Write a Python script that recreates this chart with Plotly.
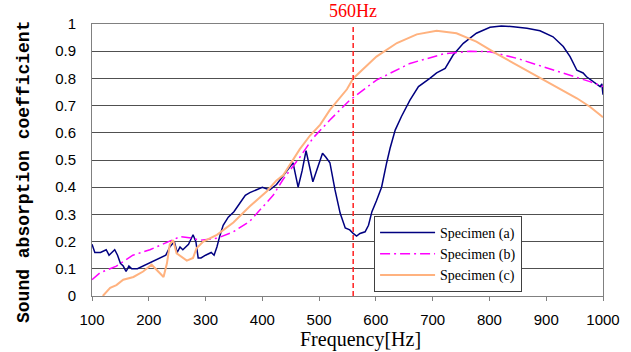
import plotly.graph_objects as go

# Specimen (a)
freq_a = [100, 105, 115, 125, 130, 140, 145, 150, 155, 160, 165, 170, 180, 190, 200, 210, 220, 230, 237,
          245, 250, 255, 260, 270, 278, 283, 287, 292, 300, 310, 315, 320, 325, 331, 340, 350, 360, 370,
          378, 390, 400, 413, 425, 436, 446, 454, 463, 470, 477, 483, 489, 497, 506, 512, 519, 528, 537,
          546, 554, 560, 566, 572, 581, 587, 593, 601, 610, 619, 625, 634, 645, 660, 675, 695, 707, 722,
          736, 754, 777, 801, 821, 842, 866, 889, 912, 930, 942, 954, 965, 971, 983, 990, 995, 998, 1000]
abs_a = [0.19, 0.16, 0.16, 0.17, 0.15, 0.17, 0.15, 0.12, 0.11, 0.09, 0.11, 0.10, 0.10, 0.11, 0.12, 0.13,
         0.14, 0.15, 0.18, 0.20, 0.16, 0.18, 0.17, 0.19, 0.225, 0.20, 0.14, 0.14, 0.15, 0.16, 0.15, 0.18,
         0.22, 0.26, 0.29, 0.31, 0.34, 0.37, 0.38, 0.39, 0.40, 0.39, 0.41, 0.44, 0.47, 0.49, 0.40, 0.46,
         0.534, 0.48, 0.42, 0.47, 0.525, 0.51, 0.49, 0.39, 0.305, 0.25, 0.243, 0.23, 0.22, 0.23, 0.236,
         0.26, 0.31, 0.35, 0.40, 0.49, 0.543, 0.61, 0.66, 0.72, 0.77, 0.80, 0.82, 0.837, 0.886, 0.929,
         0.966, 0.988, 0.993, 0.99, 0.984, 0.975, 0.953, 0.917, 0.88, 0.83, 0.82, 0.806, 0.788, 0.78,
         0.77, 0.78, 0.74]

# Specimen (b)
freq_b = [100, 114, 143, 172, 202, 231, 255, 276, 290, 320, 349, 378, 402, 419, 437, 466, 489, 519,
          554, 601, 660, 719, 766, 801, 848, 895, 942, 977, 1000]
abs_b = [0.06, 0.085, 0.11, 0.15, 0.17, 0.195, 0.218, 0.213, 0.205, 0.212, 0.236, 0.275, 0.33, 0.37,
         0.43, 0.51, 0.58, 0.647, 0.72, 0.794, 0.855, 0.89, 0.90, 0.898, 0.874, 0.843, 0.81, 0.788, 0.77]

# Specimen (c)
freq_c = [119, 132, 143, 155, 173, 190, 205, 214, 226, 232, 237, 243, 249, 267, 278, 284, 296, 320,
          349, 378, 408, 425, 437, 466, 484, 502, 519, 549, 560, 601, 637, 672, 707, 742, 777, 813, 848,
          883, 918, 954, 977, 1000]
abs_c = [0.0, 0.03, 0.04, 0.06, 0.07, 0.09, 0.115, 0.095, 0.07, 0.12, 0.19, 0.205, 0.157, 0.13, 0.14,
         0.175, 0.20, 0.225, 0.27, 0.33, 0.385, 0.425, 0.445, 0.54, 0.59, 0.63, 0.684, 0.76, 0.80, 0.88,
         0.93, 0.962, 0.975, 0.966, 0.935, 0.89, 0.85, 0.81, 0.77, 0.727, 0.696, 0.657]

x_ticks = [100, 200, 300, 400, 500, 600, 700, 800, 900, 1000]
y_ticks = [0, 0.1, 0.2, 0.3, 0.4, 0.5, 0.6, 0.7, 0.8, 0.9, 1]
y_tick_text = ["0", "0.1", "0.2", "0.3", "0.4", "0.5", "0.6", "0.7", "0.8", "0.9", "1"]
marker_freq = 560

SERIF = "Liberation Serif, Times New Roman, serif"

fig = go.Figure()
fig.add_trace(go.Scatter(x=freq_a, y=abs_a, mode="lines", name="Specimen (a)",
                         line=dict(color="#000080", width=1.5)))
fig.add_trace(go.Scatter(x=freq_b, y=abs_b, mode="lines", name="Specimen (b)",
                         line=dict(color="#FF00FF", width=1.5, dash="10px,4px,2px,4px")))
fig.add_trace(go.Scatter(x=freq_c, y=abs_c, mode="lines", name="Specimen (c)",
                         line=dict(color="#FFB27F", width=2)))

fig.add_shape(type="line", x0=marker_freq, x1=marker_freq, y0=0, y1=1, xref="x", yref="y",
              line=dict(color="#FF2020", width=1.5, dash="5px,3px"))
fig.add_annotation(x=marker_freq, y=1, xref="x", yref="y", text=f"{marker_freq}Hz", showarrow=False,
                   yanchor="bottom", yshift=1,
                   font=dict(family=SERIF, size=18, color="#FF0000"))
fig.add_annotation(x=0, y=0.5, xref="paper", yref="paper", text="Sound absorption coefficient",
                   textangle=-90, showarrow=False, xanchor="center", yanchor="middle",
                   xshift=-68, yshift=-12,
                   font=dict(family="Liberation Mono", size=18, color="#000000", weight="bold"))
fig.add_annotation(x=0.526, y=0, xref="paper", yref="paper", text="Frequency[Hz]",
                   showarrow=False, xanchor="center", yanchor="middle", yshift=-43,
                   font=dict(family=SERIF, size=20, color="#000000"))

fig.update_layout(
    width=631, height=352,
    margin=dict(l=92, r=28, t=24, b=56),
    paper_bgcolor="white", plot_bgcolor="white",
    showlegend=True,
    legend=dict(x=0.552, y=0.015, xanchor="left", yanchor="bottom",
                bgcolor="white", bordercolor="#404040", borderwidth=1,
                font=dict(family=SERIF, size=14, color="#000000"),
                tracegroupgap=0, itemwidth=55),
    font=dict(family="Liberation Sans", size=15, color="#000000"),
)
fig.update_xaxes(range=[100, 1000], tickvals=x_ticks, ticks="outside", ticklen=4,
                 tickcolor="#808080", showgrid=False, showline=True, linecolor="#808080",
                 linewidth=1, mirror=True, zeroline=False, ticklabelstandoff=6)
fig.update_yaxes(range=[0, 1], tickvals=y_ticks, ticktext=y_tick_text, ticks="",
                 showgrid=True, gridcolor="#505050", gridwidth=1, showline=True,
                 linecolor="#808080", linewidth=1, mirror=True, zeroline=False,
                 ticklabelstandoff=12)

fig.write_html("out.html")
